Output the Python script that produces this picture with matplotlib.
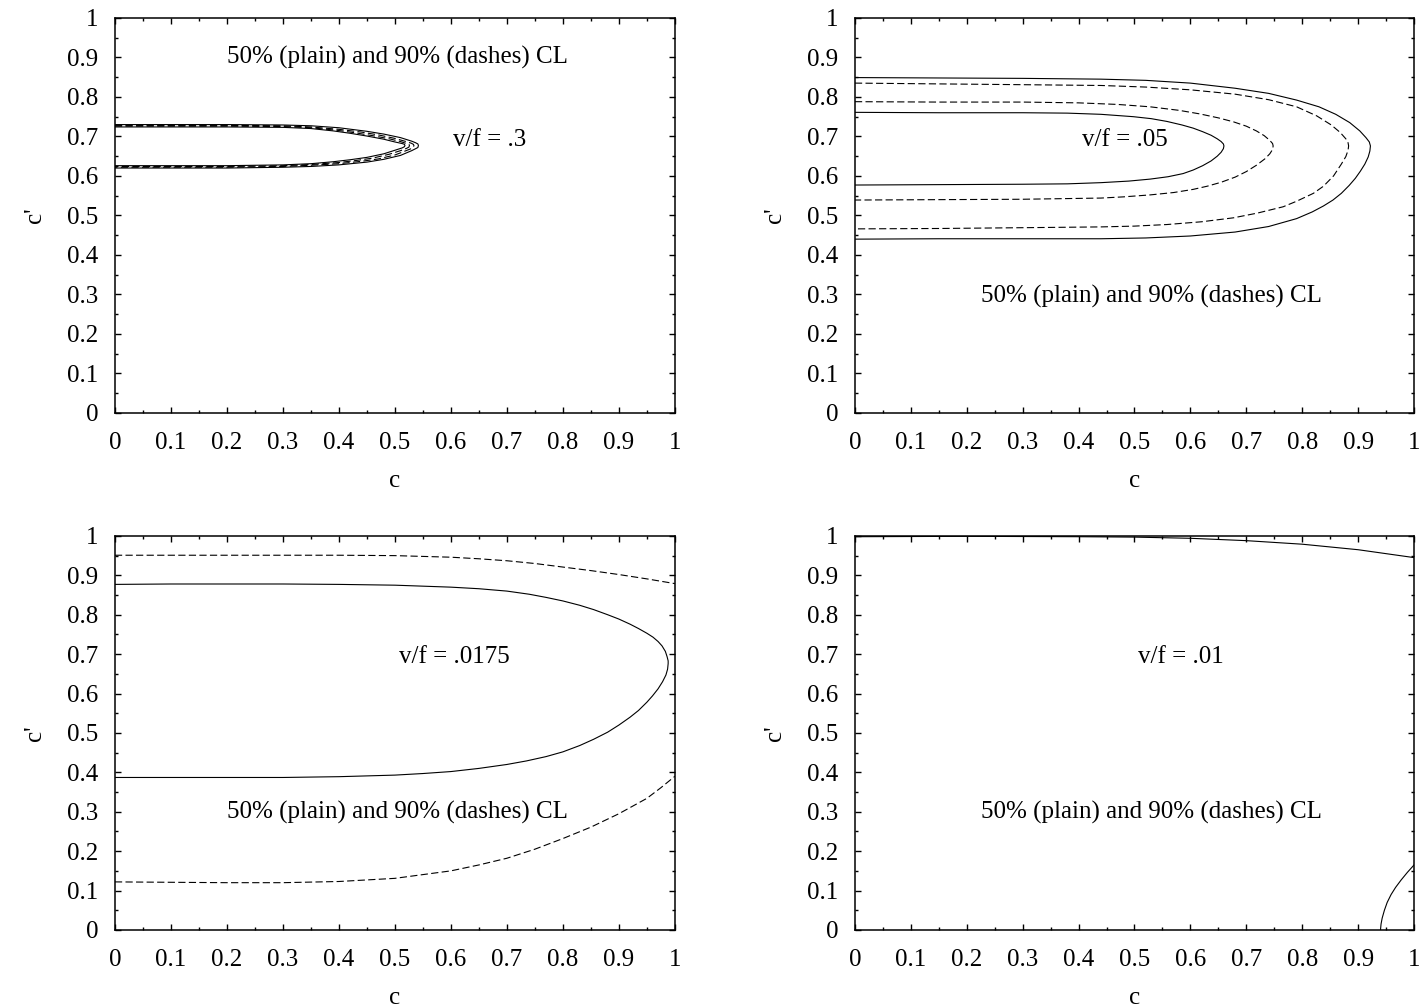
import matplotlib
matplotlib.use('Agg')
import matplotlib.pyplot as plt
from matplotlib.ticker import MultipleLocator

plt.rcParams['font.family'] = ['Liberation Serif', 'DejaVu Serif']
plt.rcParams['font.size'] = 18

# ---- v/f = .3 (top left) ----
p1_out_solid_c = [0, 0.1, 0.2, 0.3, 0.35, 0.4, 0.45, 0.48, 0.51, 0.53, 0.537, 0.541, 0.542, 0.541, 0.537, 0.53, 0.51, 0.48, 0.45, 0.4, 0.35, 0.3, 0.2, 0.1, 0]
p1_out_solid_y = [0.730, 0.730, 0.730, 0.729, 0.727, 0.722, 0.713, 0.706, 0.697, 0.688, 0.684, 0.681, 0.677, 0.672, 0.669, 0.664, 0.652, 0.642, 0.635, 0.628, 0.624, 0.622, 0.620, 0.620, 0.620]
p1_out_dash_c = [0, 0.1, 0.2, 0.3, 0.35, 0.4, 0.44, 0.47, 0.50, 0.52, 0.529, 0.533, 0.534, 0.533, 0.529, 0.52, 0.50, 0.47, 0.44, 0.4, 0.35, 0.3, 0.2, 0.1, 0]
p1_out_dash_y = [0.728, 0.728, 0.728, 0.727, 0.724, 0.718, 0.711, 0.704, 0.695, 0.687, 0.683, 0.680, 0.677, 0.673, 0.669, 0.664, 0.653, 0.643, 0.637, 0.631, 0.627, 0.624, 0.622, 0.622, 0.622]
p1_in_dash_c = [0, 0.1, 0.2, 0.3, 0.35, 0.4, 0.43, 0.46, 0.49, 0.51, 0.521, 0.525, 0.526, 0.525, 0.521, 0.51, 0.49, 0.46, 0.43, 0.4, 0.35, 0.3, 0.2, 0.1, 0]
p1_in_dash_y = [0.726, 0.726, 0.726, 0.725, 0.722, 0.715, 0.709, 0.702, 0.694, 0.687, 0.682, 0.680, 0.677, 0.673, 0.670, 0.664, 0.655, 0.645, 0.639, 0.634, 0.629, 0.626, 0.624, 0.624, 0.624]
p1_in_solid_c = [0, 0.1, 0.2, 0.3, 0.35, 0.39, 0.42, 0.45, 0.48, 0.50, 0.513, 0.517, 0.518, 0.517, 0.513, 0.50, 0.48, 0.45, 0.42, 0.39, 0.35, 0.3, 0.2, 0.1, 0]
p1_in_solid_y = [0.724, 0.724, 0.724, 0.723, 0.720, 0.714, 0.708, 0.701, 0.693, 0.686, 0.682, 0.680, 0.677, 0.674, 0.671, 0.665, 0.656, 0.647, 0.641, 0.636, 0.631, 0.628, 0.626, 0.626, 0.626]

# ---- v/f = .05 (top right) ----
p2_out_solid_c = [0, 0.15, 0.3, 0.44, 0.52, 0.60, 0.68, 0.74, 0.79, 0.83, 0.86, 0.885, 0.903, 0.914, 0.920, 0.922,
                  0.921, 0.918, 0.912, 0.904, 0.895, 0.884, 0.870, 0.855, 0.838, 0.818, 0.79, 0.74, 0.68, 0.60, 0.52, 0.44, 0.3, 0.15, 0]
p2_out_solid_y = [0.849, 0.848, 0.847, 0.845, 0.842, 0.835, 0.822, 0.809, 0.792, 0.775, 0.756, 0.735, 0.714, 0.697, 0.686, 0.676,
                  0.663, 0.648, 0.630, 0.612, 0.594, 0.576, 0.556, 0.539, 0.524, 0.509, 0.492, 0.472, 0.458, 0.448, 0.443, 0.441, 0.441, 0.441, 0.440]
p2_out_dash_c = [0, 0.15, 0.3, 0.44, 0.52, 0.60, 0.68, 0.74, 0.79, 0.826, 0.852, 0.868, 0.878, 0.882, 0.883,
                 0.882, 0.878, 0.870, 0.856, 0.838, 0.820, 0.79, 0.766, 0.72, 0.677, 0.62, 0.558, 0.50, 0.44, 0.3, 0.15, 0]
p2_out_dash_y = [0.835, 0.833, 0.831, 0.829, 0.825, 0.818, 0.807, 0.793, 0.775, 0.752, 0.729, 0.710, 0.694, 0.684, 0.676,
                 0.665, 0.649, 0.630, 0.600, 0.574, 0.556, 0.536, 0.522, 0.506, 0.494, 0.484, 0.477, 0.473, 0.471, 0.469, 0.467, 0.466]
p2_in_dash_c = [0, 0.15, 0.3, 0.40, 0.47, 0.528, 0.58, 0.617, 0.65, 0.677, 0.70, 0.718, 0.732, 0.742, 0.747, 0.748,
                0.747, 0.742, 0.733, 0.718, 0.700, 0.680, 0.655, 0.630, 0.605, 0.570, 0.528, 0.48, 0.44, 0.3, 0.15, 0]
p2_in_dash_y = [0.788, 0.787, 0.787, 0.785, 0.781, 0.775, 0.766, 0.757, 0.747, 0.737, 0.726, 0.714, 0.702, 0.690, 0.682, 0.676,
                0.667, 0.656, 0.643, 0.627, 0.611, 0.597, 0.584, 0.574, 0.566, 0.558, 0.552, 0.547, 0.544, 0.541, 0.540, 0.539]
p2_in_solid_c = [0, 0.15, 0.3, 0.38, 0.44, 0.498, 0.53, 0.558, 0.585, 0.605, 0.622, 0.637, 0.648, 0.655, 0.659, 0.660,
                 0.659, 0.655, 0.648, 0.637, 0.622, 0.605, 0.587, 0.56, 0.528, 0.49, 0.44, 0.38, 0.3, 0.15, 0]
p2_in_solid_y = [0.761, 0.760, 0.760, 0.759, 0.756, 0.750, 0.745, 0.738, 0.729, 0.721, 0.712, 0.703, 0.694, 0.687, 0.681, 0.676,
                 0.669, 0.660, 0.650, 0.638, 0.626, 0.615, 0.606, 0.598, 0.592, 0.587, 0.583, 0.580, 0.579, 0.578, 0.577]

# ---- v/f = .0175 (bottom left) ----
p3_solid_c = [0, 0.1, 0.2, 0.3, 0.4, 0.5, 0.6, 0.65, 0.7, 0.74, 0.77, 0.80, 0.83, 0.855, 0.88, 0.90, 0.92, 0.935, 0.95,
              0.961, 0.970, 0.977, 0.983, 0.986, 0.988, 0.988,
              0.987, 0.984, 0.978, 0.970, 0.960, 0.95, 0.935, 0.92, 0.90, 0.88, 0.855, 0.83, 0.80, 0.77, 0.735,
              0.70, 0.65, 0.6, 0.55, 0.5, 0.4, 0.3, 0.2, 0.1, 0]
p3_solid_y = [0.877, 0.878, 0.878, 0.878, 0.877, 0.875, 0.870, 0.866, 0.860, 0.852, 0.844, 0.835, 0.824, 0.813, 0.800, 0.789, 0.776, 0.765, 0.753,
              0.743, 0.732, 0.721, 0.707, 0.694, 0.683, 0.676,
              0.662, 0.647, 0.630, 0.612, 0.594, 0.578, 0.557, 0.540, 0.520, 0.502, 0.484, 0.468, 0.452, 0.440, 0.429,
              0.420, 0.410, 0.402, 0.397, 0.393, 0.389, 0.387, 0.387, 0.387, 0.387]
p3_dash_top_c = [0, 0.1, 0.2, 0.3, 0.4, 0.5, 0.6, 0.65, 0.7, 0.75, 0.8, 0.85, 0.9, 0.95, 1.0]
p3_dash_top_y = [0.951, 0.951, 0.951, 0.951, 0.951, 0.950, 0.946, 0.942, 0.937, 0.930, 0.921, 0.912, 0.902, 0.891, 0.879]
p3_dash_bot_c = [0, 0.1, 0.2, 0.3, 0.4, 0.5, 0.6, 0.65, 0.7, 0.75, 0.8, 0.85, 0.9, 0.95, 0.975, 1.0]
p3_dash_bot_y = [0.122, 0.121, 0.120, 0.120, 0.123, 0.131, 0.150, 0.165, 0.182, 0.205, 0.232, 0.261, 0.295, 0.334, 0.361, 0.390]

# ---- v/f = .01 (bottom right) ----
p4_top_c = [0, 0.2, 0.4, 0.5, 0.6, 0.7, 0.8, 0.9, 1.0]
p4_top_y = [0.998, 0.999, 0.998, 0.997, 0.994, 0.988, 0.979, 0.965, 0.945]
p4_corner_c = [0.940, 0.941, 0.943, 0.947, 0.952, 0.959, 0.967, 0.977, 0.988, 1.0]
p4_corner_y = [0.0, 0.015, 0.03, 0.05, 0.07, 0.09, 0.108, 0.127, 0.146, 0.165]

ticks = [round(0.1 * i, 1) for i in range(11)]
tick_labels = ['0'] + ['%.1f' % t for t in ticks[1:-1]] + ['1']
cl_text = '50% (plain) and 90% (dashes) CL'

solid = dict(color='black', lw=0.8)
dash = dict(color='black', lw=0.8, dashes=(6.5, 3))

fig = plt.figure(figsize=(14.19, 10.07), dpi=100)
ax1 = fig.add_axes([0.0810, 0.5899, 0.3946, 0.3923])
ax2 = fig.add_axes([0.6025, 0.5899, 0.3940, 0.3923])
ax3 = fig.add_axes([0.0810, 0.0765, 0.3946, 0.3913])
ax4 = fig.add_axes([0.6025, 0.0765, 0.3940, 0.3913])

for ax in [ax1, ax2, ax3, ax4]:
    ax.set_xlim(0, 1)
    ax.set_ylim(0, 1)
    ax.set_xticks(ticks)
    ax.set_xticklabels(tick_labels)
    ax.set_yticks(ticks)
    ax.set_yticklabels(tick_labels)
    ax.xaxis.set_minor_locator(MultipleLocator(0.05))
    ax.yaxis.set_minor_locator(MultipleLocator(0.05))
    ax.tick_params(which='both', direction='in', top=True, right=True, width=1)
    ax.tick_params(which='major', length=4.5)
    ax.tick_params(which='minor', length=2.2)
    ax.tick_params(axis='x', pad=13.5)
    ax.tick_params(axis='y', pad=12)
    for s in ax.spines.values():
        s.set_linewidth(1.1)
    ax.set_xlabel('c', labelpad=12)
    ax.set_ylabel("c'", labelpad=15)

ax1.plot(p1_out_solid_c, p1_out_solid_y, **solid)
ax1.plot(p1_out_dash_c, p1_out_dash_y, **dash)
ax1.plot(p1_in_dash_c, p1_in_dash_y, **dash)
ax1.plot(p1_in_solid_c, p1_in_solid_y, **solid)
ax1.text(0.504, 0.899, cl_text, ha='center', va='center')
ax1.text(0.67, 0.69, 'v/f = .3', ha='center', va='center')

ax2.plot(p2_out_solid_c, p2_out_solid_y, **solid)
ax2.plot(p2_out_dash_c, p2_out_dash_y, **dash)
ax2.plot(p2_in_dash_c, p2_in_dash_y, **dash)
ax2.plot(p2_in_solid_c, p2_in_solid_y, **solid)
ax2.text(0.483, 0.691, 'v/f = .05', ha='center', va='center')
ax2.text(0.531, 0.294, cl_text, ha='center', va='center')

ax3.plot(p3_solid_c, p3_solid_y, **solid)
ax3.plot(p3_dash_top_c, p3_dash_top_y, **dash)
ax3.plot(p3_dash_bot_c, p3_dash_bot_y, **dash)
ax3.text(0.607, 0.693, 'v/f = .0175', ha='center', va='center')
ax3.text(0.504, 0.299, cl_text, ha='center', va='center')

ax4.plot(p4_top_c, p4_top_y, **solid)
ax4.plot(p4_corner_c, p4_corner_y, **solid)
ax4.text(0.583, 0.693, 'v/f = .01', ha='center', va='center')
ax4.text(0.531, 0.299, cl_text, ha='center', va='center')

fig.savefig('out.png', dpi=100)
